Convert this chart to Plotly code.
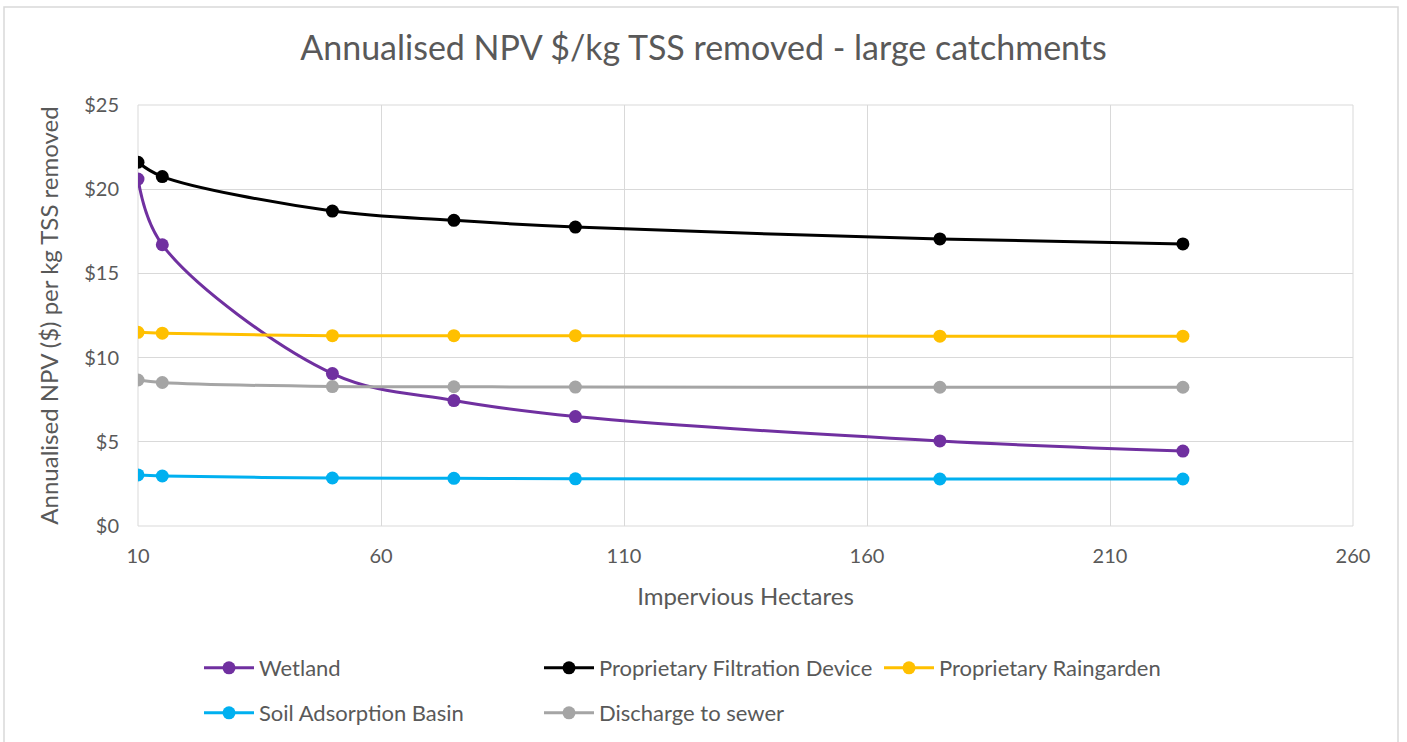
import plotly.graph_objects as go

x_vals = [10, 15, 50, 75, 100, 175, 225]
wetland = [20.6, 16.7, 9.05, 7.45, 6.5, 5.05, 4.45]
filtration = [21.6, 20.75, 18.7, 18.15, 17.75, 17.05, 16.75]
raingarden = [11.5, 11.45, 11.3, 11.3, 11.3, 11.27, 11.27]
soil = [3.03, 2.97, 2.85, 2.83, 2.8, 2.79, 2.79]
sewer = [8.67, 8.52, 8.28, 8.27, 8.25, 8.24, 8.24]

series = [
    ("Wetland", wetland, "#7030A0", "legend"),
    ("Proprietary Filtration Device", filtration, "#000000", "legend"),
    ("Proprietary Raingarden", raingarden, "#FFC000", "legend"),
    ("Soil Adsorption Basin", soil, "#00B0F0", "legend2"),
    ("Discharge to sewer", sewer, "#A5A5A5", "legend2"),
]

FONT = "Lato"
TXT = "#595959"
W, H = 1407, 742
L, R, T, B = 138, 54, 105, 216
PW = W - L - R
PH = H - T - B


def px_x(p):
    return (p - L) / PW


def px_y(p):
    return (H - B - p) / PH


fig = go.Figure()
for name, ys, col, lg in series:
    fig.add_trace(go.Scatter(
        x=x_vals, y=ys, name=name, mode="lines+markers",
        line=dict(color=col, width=3, shape="spline", smoothing=1.0),
        marker=dict(color=col, size=13),
        legend=lg,
    ))

legend_common = dict(orientation="h", xanchor="left", yanchor="top",
                     xref="container", yref="container",
                     entrywidth=275, entrywidthmode="pixels",
                     font=dict(size=22, color=TXT, family=FONT),
                     itemwidth=50, bgcolor="rgba(0,0,0,0)")

fig.update_layout(
    width=W, height=H,
    margin=dict(l=L, r=R, t=T, b=B, autoexpand=False),
    paper_bgcolor="white", plot_bgcolor="white",
    font=dict(family=FONT, color=TXT, size=20),
    title=dict(text="Annualised NPV $/kg TSS removed - large catchments",
               x=0.5, xanchor="center", y=1 - 48 / H, yanchor="middle",
               font=dict(size=34, color=TXT, family=FONT)),
    xaxis=dict(range=[10, 260], tick0=10, dtick=50, showgrid=True,
               gridcolor="#D9D9D9", gridwidth=1, zeroline=False,
               showline=False, ticks="", ticklabelstandoff=16,
               tickfont=dict(size=20, color=TXT),
               title=dict(text="Impervious Hectares", font=dict(size=24, color=TXT), standoff=22)),
    yaxis=dict(range=[0, 25], dtick=5, tickprefix="$", showgrid=True,
               gridcolor="#D9D9D9", gridwidth=1, zeroline=False,
               showline=False, ticks="", ticklabelstandoff=18,
               tickfont=dict(size=20, color=TXT),
               title=dict(text="Annualised NPV ($) per kg TSS removed",
                          font=dict(size=24, color=TXT), standoff=18)),
    legend=dict(x=199 / W, y=1 - 647 / H, **legend_common),
    legend2=dict(x=199 / W, y=1 - 692 / H, **legend_common),
    showlegend=True,
)

# outer chart border
fig.add_shape(type="rect", xref="paper", yref="paper",
              x0=px_x(4), x1=px_x(1398),
              y0=px_y(800), y1=px_y(7),
              line=dict(color="#D9D9D9", width=1.5), fillcolor="rgba(0,0,0,0)",
              layer="below")
# plot area border matching gridlines
fig.add_shape(type="rect", xref="paper", yref="paper", x0=0, x1=1, y0=0, y1=1,
              line=dict(color="#D9D9D9", width=1), layer="below")

fig.write_html("out.html")
